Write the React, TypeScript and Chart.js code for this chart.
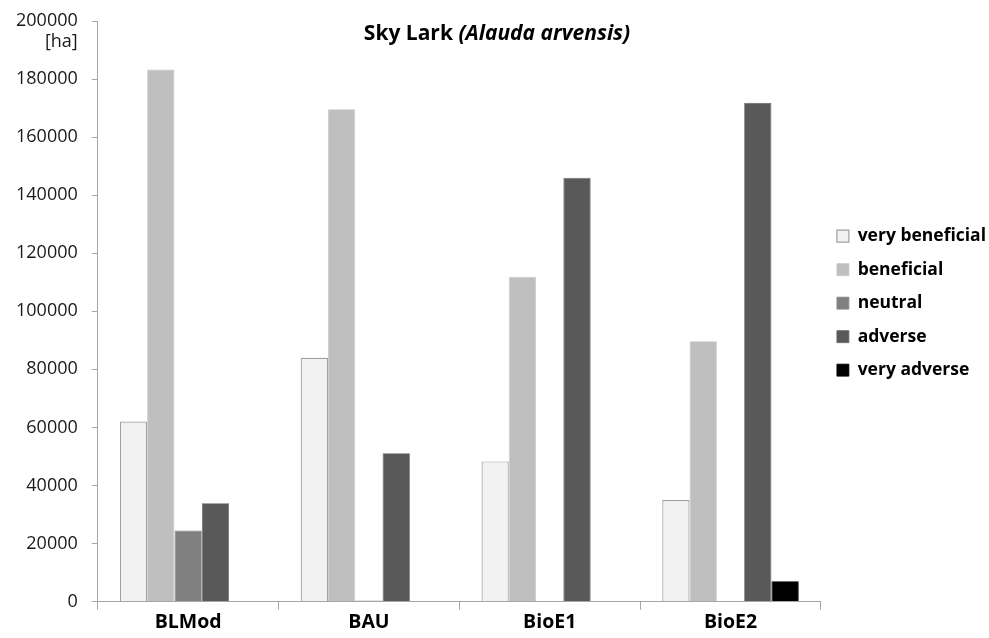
import React, { useEffect, useRef } from "react";
import { Chart, registerables } from "chart.js";

Chart.register(...registerables);

const categories = ["BLMod", "BAU", "BioE1", "BioE2"];
const seriesNames = ["very beneficial", "beneficial", "neutral", "adverse", "very adverse"];
const veryBeneficial = [62000, 84000, 48300, 35000];
const beneficial = [183300, 169600, 111800, 89700];
const neutral = [24500, 400, 0, 0];
const adverse = [33900, 51100, 146000, 171800];
const veryAdverse = [0, 0, 0, 7000];
const yTicks = [0, 20000, 40000, 60000, 80000, 100000, 120000, 140000, 160000, 180000, 200000];
const titleMain = "Sky Lark ";
const titleItalic = "(Alauda arvensis)";
const unitLabel = "[ha]";

const FONT = "'Open Sans', 'DejaVu Sans', sans-serif";

const overlay = {
  id: "overlay",
  afterDraw(chart: any) {
    const ctx = chart.ctx as CanvasRenderingContext2D;
    ctx.save();
    ctx.fillStyle = "#000";
    ctx.textBaseline = "middle";
    ctx.font = `bold 21px ${FONT}`;
    const w1 = ctx.measureText(titleMain).width;
    ctx.font = `italic bold 21px ${FONT}`;
    const w2 = ctx.measureText(titleItalic).width;
    const cx = 497;
    const x0 = cx - (w1 + w2) / 2;
    ctx.textAlign = "left";
    ctx.font = `bold 21px ${FONT}`;
    ctx.fillText(titleMain, x0, 34);
    ctx.font = `italic bold 21px ${FONT}`;
    ctx.fillText(titleItalic, x0 + w1, 34);
    // unit label
    const ys = chart.scales.y;
    ctx.font = `18px ${FONT}`;
    ctx.fillStyle = "#1a1a1a";
    ctx.textAlign = "right";
    const yTop = ys.getPixelForValue(200000);
    ctx.fillText(unitLabel, ys.right - 20, yTop + 21);
    ctx.restore();
  },
};

export default function App() {
  const ref = useRef<HTMLCanvasElement>(null);
  useEffect(() => {
    if (!ref.current) return;
    const fills = ["#f2f2f2", "#bfbfbf", "#808080", "#595959", "#000000"];
    const borders = ["#a0a0a0", "#c8c8c8", "#8a8a8a", "#666666", "#000000"];
    const data = [veryBeneficial, beneficial, neutral, adverse, veryAdverse];
    const chart = new Chart(ref.current, {
      type: "bar",
      data: {
        labels: categories,
        datasets: seriesNames.map((n, i) => ({
          label: n,
          data: data[i],
          backgroundColor: fills[i],
          borderColor: borders[i],
          borderWidth: i === 0 ? 1.2 : 0.8,
          barPercentage: 1,
          categoryPercentage: 0.755,
        })),
      },
      options: {
        responsive: false,
        animation: false,
        layout: { padding: { top: 21, left: 2, right: -7, bottom: 3 } },
        plugins: {
          title: { display: false },
          tooltip: { enabled: false },
          legend: {
            position: "right",
            align: "start",
            title: {
              display: true,
              text: " ",
              font: { size: 12 },
              padding: { top: 176, bottom: 0 },
            },
            labels: {
              boxWidth: 12,
              boxHeight: 12,
              padding: 16,
              color: "#000",
              font: { family: FONT, size: 17.5, weight: "bold" },
            },
          },
        },
        scales: {
          x: {
            grid: {
              display: true,
              drawOnChartArea: false,
              drawTicks: true,
              tickLength: 8,
              color: "#a6a6a6",
              offset: true,
            },
            border: { display: true, color: "#a6a6a6", width: 1 },
            ticks: {
              color: "#000",
              padding: 1,
              font: { family: FONT, size: 19.5, weight: "bold" },
            },
          },
          y: {
            min: 0,
            max: 200000,
            afterBuildTicks: (axis: any) => {
              axis.ticks = yTicks.map((v) => ({ value: v }));
            },
            afterFit: (axis: any) => {
              axis.paddingTop = 0;
              axis.paddingBottom = 0;
            },
            grid: {
              display: true,
              drawOnChartArea: false,
              drawTicks: true,
              tickLength: 6,
              color: "#a6a6a6",
            },
            border: { display: true, color: "#a6a6a6", width: 1 },
            ticks: {
              color: "#1a1a1a",
              padding: 14,
              font: { family: FONT, size: 18 },
              callback: (v: any) => String(v),
            },
          },
        },
      },
      plugins: [overlay],
    });
    return () => chart.destroy();
  }, []);
  return (
    <div style={{ position: "fixed", left: 0, top: 0, width: 989, height: 638, background: "#fff" }}>
      <canvas ref={ref} width={989} height={638} />
    </div>
  );
}
